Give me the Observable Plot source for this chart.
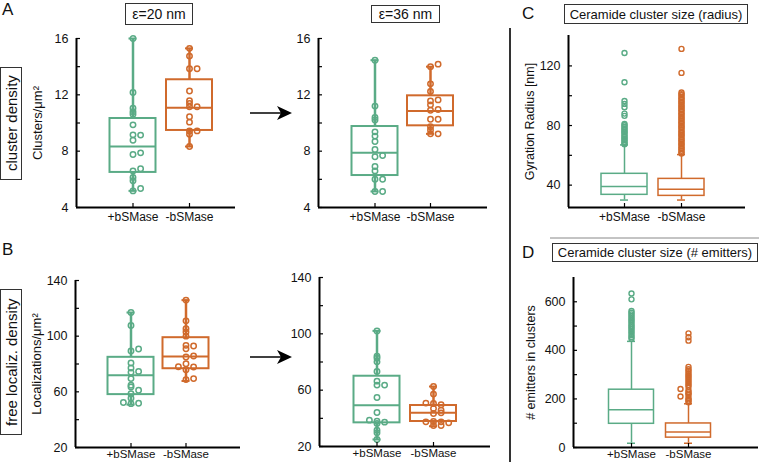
<!DOCTYPE html>
<html><head><meta charset="utf-8">
<script src="https://cdn.jsdelivr.net/npm/d3@7"></script>
<script src="https://cdn.jsdelivr.net/npm/@observablehq/plot@0.6"></script>
<style>
body{margin:0;background:#fff;font-family:"Liberation Sans",Arial,Helvetica,sans-serif;color:#111;}
#fig{position:relative;width:759px;height:462px;overflow:hidden;background:#fff;}
.pl{position:absolute;}
.tbox{position:absolute;border:1.5px solid #333;box-sizing:border-box;display:flex;align-items:center;justify-content:center;white-space:nowrap;color:#111;}
.vbox{writing-mode:vertical-rl;transform:rotate(180deg);}
.letter{position:absolute;font-size:17px;line-height:17px;color:#111;}
</style></head><body>
<div id="fig">
  <div class="letter" style="left:2px;top:1px;">A</div>
  <div class="letter" style="left:2px;top:241px;">B</div>
  <div class="letter" style="left:522px;top:5px;">C</div>
  <div class="letter" style="left:522px;top:244px;">D</div>
  <div class="tbox" style="left:125px;top:3px;width:68px;height:22px;font-size:14px;">ε=20 nm</div>
  <div class="tbox" style="left:371px;top:5px;width:69px;height:18px;font-size:14px;">ε=36 nm</div>
  <div class="tbox" style="left:564px;top:4px;width:184px;height:20px;font-size:13px;">Ceramide cluster size (radius)</div>
  <div class="tbox" style="left:552px;top:243px;width:206px;height:19px;font-size:13px;">Ceramide cluster size (# emitters)</div>
  <div class="tbox vbox" style="left:0px;top:67px;width:22px;height:113px;font-size:15px;">cluster density</div>
  <div class="tbox vbox" style="left:0px;top:289px;width:22px;height:146px;font-size:15px;">free localiz. density</div>
  <svg class="pl" style="left:0;top:0;" width="759" height="462">
    <line x1="510" y1="28" x2="510" y2="462" stroke="#333" stroke-width="2"/>
    <line x1="550" y1="238" x2="759" y2="238" stroke="#888" stroke-width="1"/>
    <line x1="250" y1="113" x2="284" y2="113" stroke="#000" stroke-width="1.5"/>
    <path d="M292,113 L277,106 L281,113 L277,120 Z" fill="#000"/>
    <line x1="250" y1="357" x2="284" y2="357" stroke="#000" stroke-width="1.5"/>
    <path d="M292,357 L277,350 L281,357 L277,364 Z" fill="#000"/>
  </svg>
</div>
<script>
// ---- data ----
const groups = ["+bSMase", "-bSMase"];
const colors = ["#5aab86", "#d06a2c"];

// A: cluster density, eps = 20 nm
const a20Plus  = [16.0, 12.17, 11.05, 10.8, 10.63, 9.87, 9.16, 9.14, 8.78, 7.76, 7.88, 6.75, 6.6, 6.13, 5.9, 5.18, 5.35];
const a20PlusLane = [0,0,0,0,0,0,0,1,0,0,1,1,0,0,0,0,1];
const a20Minus = [15.3, 14.75, 13.85, 13.85, 12.27, 11.58, 11.38, 11.15, 11.15, 10.44, 10.06, 9.44, 9.44, 9.2, 8.33];
const a20MinusLane = [0,0,0,1,0,0,0,0,1,0,0,0,1,0,0];
const a20Stats = [ // [lo, q1, median, q3, hi]
  [5.18, 6.49, 8.33, 10.32, 16.0],
  [8.33, 9.47, 11.08, 13.07, 15.3]
];
// A: cluster density, eps = 36 nm
const a36Plus  = [14.46, 11.2, 10.39, 10.22, 9.37, 9.07, 8.69, 8.12, 7.6, 7.69, 6.91, 6.6, 6.01, 6.01, 5.14, 5.14];
const a36PlusLane = [0,0,0,0,0,0,0,0,0,1,0,0,0,1,0,1];
const a36Minus = [14.0, 14.18, 12.78, 12.24, 11.57, 11.64, 11.29, 10.91, 10.96, 10.27, 10.27, 9.73, 9.5, 9.23, 9.23];
const a36MinusLane = [0,1,0,0,0,1,0,0,1,0,1,0,0,0,1];
const a36Stats = [
  [5.14, 6.27, 7.88, 9.75, 14.46],
  [9.23, 9.8, 10.86, 11.93, 14.0]
];
// B: free localization density, eps = 20 nm
const b20Plus  = [117, 107.7, 89.3, 90.8, 80.7, 77.1, 74, 74.7, 69.5, 64.7, 63.5, 61.1, 58.7, 55.4, 51.5, 52.3, 51.8];
const b20PlusLane = [0,0,0,1,0,0,0,1,0,0,0,1,0,0,0,-1,1];
const b20Minus = [125.9, 111, 105.3, 103, 100, 93.4, 92.9, 91, 85, 85.7, 80.2, 78, 77.8, 75.9, 68.8, 69.5];
const b20MinusLane = [0,0,0,0,0,0,1,0,0,1,0,-1,1,0,0,1];
const b20Stats = [
  [50.8, 58, 71.9, 84.8, 117],
  [67.8, 76.6, 85.3, 98.9, 125.9]
];
// B: free localization density, eps = 36 nm
const b36Plus  = [102, 84.1, 82.7, 80.1, 73.3, 66.4, 63.6, 63.6, 54.8, 44.1, 38.7, 38, 37.3, 36.3, 31.6, 29.7, 25];
const b36PlusLane = [0,0,0,0,0,0,0,1,0,0,-1,0,1,0,0,0,0];
const b36Minus = [62.6, 57.2, 50.8, 50.5, 49.6, 47, 45.8, 43.4, 43.9, 37.5, 37.8, 37.5, 36.8, 34.9, 34.9];
const b36MinusLane = [0,0,-1,0,1,0,1,0,1,-1,0,1,2,0,1];
const b36Stats = [
  [25, 36.8, 49.35, 69.9, 102.1],
  [34.4, 37.75, 43.9, 49.1, 62.6]
];
// C: gyration radius (nm)
const cPlusOut  = [128.7, 109, 96.5, 94.5, 92.3, 88, 86.5, 81, 80.2, 79.1, 78, 77.2, 76, 75.3, 74.1, 73, 72.2, 71, 70.3, 69.1, 68.2, 67.5];
const cMinusOut = [131.4, 115.3, 102.2, 101.1, 100.3, 99, 98.2, 97.1, 96, 95.2, 94.1, 93, 92.3, 91, 90.2, 89.1, 88, 87.3, 86.1, 85, 84.2, 83.1, 82, 81.2, 80.1, 79, 78.3, 77.1, 76, 75.2, 74, 73.3, 72.1, 71, 70.2, 69.1, 68, 67.2, 66.1, 65, 64.2, 63.1, 62, 61.2];
const cStats = [
  [30, 33.5, 39.1, 47.6, 67],
  [30, 32.8, 37.2, 44.2, 60.5]
];
// D: emitters in clusters
const dPlusOut  = [634, 610, 562, 555, 548, 540, 532, 525, 518, 510, 502, 495, 488, 480, 472, 463, 455, 448];
const dMinusOut = [470, 454, 440, 332, 322, 315, 306, 298, 290, 282, 274, 266, 258, 250, 241, 236, 228, 222, 216, 210, 204, 198, 192, 186];
const dMinusLane = [0,0,0,0,0,0,0,0,0,0,0,0,0,0,-1,0,0,0,0,-1,0,0,0,0];
const dStats = [
  [17.5, 97.6, 155.7, 238, 437],
  [17.5, 40.6, 63.5, 99, 180]
];

const yTicksA = [4, 6, 8, 10, 12, 14, 16], yLabA = [4, 8, 12, 16];
const yTicksB = [20, 40, 60, 80, 100, 120, 140], yLabB = [20, 60, 100, 140];
const yTicksC = [40, 60, 80, 100, 120], yLabC = [40, 80, 120];
const yTicksD = [0, 100, 200, 300, 400, 500, 600], yLabD = [0, 200, 400, 600];

// ---- drawing ----
const fig = document.getElementById("fig");
function zeros(n) { return new Array(n).fill(0); }

function panel(cfg) {
  const {left, right, top, bottom, cats, yDomain, yTicks, yLabels, label, labelDx, labelFont = 12,
         pts, stats, jitPx, r, dotSW, boxSW, whiskSW, xPad = 5, xFont = 12} = cfg;
  const mL = 62, mT = 8, mR = 6, mB = 24;
  const svgLeft = left - mL, svgTop = top - mT;
  const width = right + mR - svgLeft, height = bottom + mB - svgTop;
  const u = cats[1] - cats[0];
  const xlo = 1 - (cats[0] - left) / u, xhi = 2 + (right - cats[1]) / u;
  const hw = cfg.hwPx / u, cap = 4 / u, jit = jitPx / u;
  const rows = [];
  pts.forEach(([vals, lanes], gi) => vals.forEach((v, j) => rows.push({g: gi, x: gi + 1 + lanes[j] * jit, v})));
  const st = stats.map((s, gi) => ({g: gi, x: gi + 1, lo: s[0], q1: s[1], med: s[2], q3: s[3], hi: s[4]}));
  const col = d => colors[d.g];
  const plotW = right - left, plotH = bottom - top;
  const marks = [
    Plot.ruleX(st, {x: "x", y1: "lo", y2: "q1", stroke: col, strokeWidth: whiskSW}),
    Plot.ruleX(st, {x: "x", y1: "q3", y2: "hi", stroke: col, strokeWidth: whiskSW}),
    Plot.ruleY(st, {y: "lo", x1: d => d.x - cap, x2: d => d.x + cap, stroke: col, strokeWidth: boxSW}),
    Plot.ruleY(st, {y: "hi", x1: d => d.x - cap, x2: d => d.x + cap, stroke: col, strokeWidth: boxSW}),
    Plot.rect(st, {x1: d => d.x - hw, x2: d => d.x + hw, y1: "q1", y2: "q3", stroke: col, fill: "none", strokeWidth: boxSW}),
    Plot.ruleY(st, {y: "med", x1: d => d.x - hw, x2: d => d.x + hw, stroke: col, strokeWidth: boxSW}),
    Plot.dot(rows, {x: "x", y: "v", r, stroke: col, strokeWidth: dotSW, fill: "none"}),
    Plot.tickY(yTicks, {y: d => d, insetRight: plotW - 4, stroke: "#000", strokeWidth: 1.2}),
    Plot.tickX([1, 2], {x: d => d, insetTop: plotH - 4, stroke: "#000", strokeWidth: 1.2}),
    Plot.ruleX([xlo], {stroke: "#000", strokeWidth: 2}),
    Plot.ruleY([yDomain[0]], {stroke: "#000", strokeWidth: 2}),
    Plot.axisY({ticks: yLabels, tickSize: 0, tickPadding: 8, label: null, fontSize: 12.5}),
    Plot.axisX({ticks: [1, 2], tickFormat: i => groups[i - 1], tickSize: 0, tickPadding: xPad, label: null, fontSize: xFont})
  ];
  if (label) marks.push(Plot.text([label], {text: d => d, frameAnchor: "left", textAnchor: "middle", dx: labelDx, rotate: -90, fontSize: labelFont, fill: "#111"}));
  const p = Plot.plot({
    width, height, marginLeft: mL, marginTop: mT, marginRight: mR, marginBottom: mB,
    x: {type: "linear", domain: [xlo, xhi]},
    y: {type: "linear", domain: yDomain},
    style: {background: "transparent", fontFamily: "Liberation Sans, Arial, Helvetica, sans-serif", color: "#111", overflow: "visible"},
    marks
  });
  p.style.position = "absolute";
  p.style.left = svgLeft + "px";
  p.style.top = svgTop + "px";
  p.style.maxWidth = "none";
  fig.appendChild(p);
}

const scatterStyle = {jitPx: 7.6, r: 2.7, dotSW: 1.5, boxSW: 2, whiskSW: 2.5, hwPx: 23, labelFont: 13};
const boxStyle = {jitPx: 8, r: 2.5, dotSW: 1.4, boxSW: 1.5, whiskSW: 1.5, hwPx: 23, labelFont: 12.5};
const lowAxis = {xPad: 2, xFont: 11.5};

panel({...scatterStyle, left: 76, right: 235, top: 38, bottom: 207, cats: [132.5, 189], yDomain: [4, 16],
  yTicks: yTicksA, yLabels: yLabA, label: "Clusters/μm²", labelDx: -39,
  pts: [[a20Plus, a20PlusLane], [a20Minus, a20MinusLane]], stats: a20Stats});
panel({...scatterStyle, left: 318, right: 487, top: 38, bottom: 207, cats: [374.5, 430], yDomain: [4, 16],
  yTicks: yTicksA, yLabels: yLabA,
  pts: [[a36Plus, a36PlusLane], [a36Minus, a36MinusLane]], stats: a36Stats});
panel({...scatterStyle, ...lowAxis, left: 75, right: 240, top: 280, bottom: 447, cats: [130.5, 185.5], yDomain: [20, 140],
  yTicks: yTicksB, yLabels: yLabB, label: "Localizations/μm²", labelDx: -39,
  pts: [[b20Plus, b20PlusLane], [b20Minus, b20MinusLane]], stats: b20Stats});
panel({...scatterStyle, ...lowAxis, left: 319, right: 490, top: 277, bottom: 446, cats: [376.5, 433], yDomain: [20, 140],
  yTicks: yTicksB, yLabels: yLabB,
  pts: [[b36Plus, b36PlusLane], [b36Minus, b36MinusLane]], stats: b36Stats});
panel({...boxStyle, left: 568, right: 745, top: 35, bottom: 207, cats: [624, 681], yDomain: [25, 140.4],
  yTicks: yTicksC, yLabels: yLabC, label: "Gyration Radius [nm]", labelDx: -39,
  pts: [[cPlusOut, zeros(cPlusOut.length)], [cMinusOut, zeros(cMinusOut.length)]], stats: cStats});
panel({...boxStyle, ...lowAxis, hwPx: 22.5, left: 573, right: 758, top: 277, bottom: 447, cats: [631, 688], yDomain: [0, 700],
  yTicks: yTicksD, yLabels: yLabD, label: "# emitters in clusters", labelDx: -43,
  pts: [[dPlusOut, zeros(dPlusOut.length)], [dMinusOut, dMinusLane]], stats: dStats});
</script>
</body></html>
